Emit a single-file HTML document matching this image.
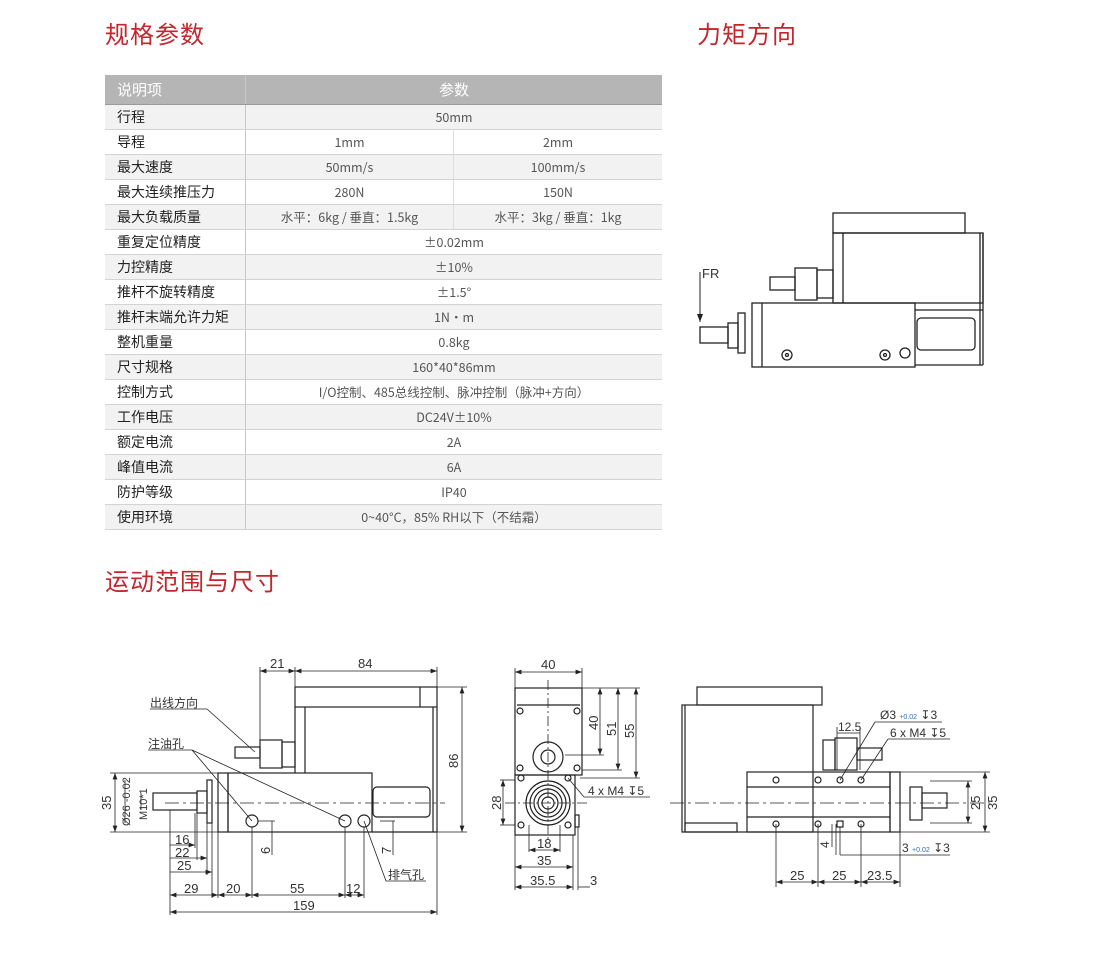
<!DOCTYPE html>
<html><head><meta charset="utf-8"><style>
body{margin:0;width:1102px;height:963px;background:#fff;position:relative;overflow:hidden;font-family:"Liberation Sans","Noto Sans CJK SC",sans-serif;}
.t{position:absolute;color:#c1272d;font-size:24px;line-height:30px;letter-spacing:1px;font-family:"Noto Sans CJK SC",sans-serif}
table{position:absolute;left:105px;top:75px;border-collapse:collapse;width:557px;font-size:13px;color:#333;font-family:"Noto Sans CJK SC",sans-serif}
td{height:24px;line-height:18px;padding:0;border-bottom:1px solid #d3d3d3;text-align:center;color:#555;font-size:12.5px;vertical-align:middle}
td.l{text-align:left;padding-left:12px;width:128px;border-right:1px solid #c8c8c8;color:#222;font-size:14px}
tr.g td{background:#f2f2f2}
tr.h td{background:#b5b5b6;color:#fff;height:29px;font-size:15px;border-bottom:1px solid #999}
td.s{border-right:1px solid #ddd;width:207px}
svg{position:absolute;left:0;top:0}
</style></head><body>
<div class="t" style="left:105px;top:18px">规格参数</div>
<div class="t" style="left:697px;top:18px">力矩方向</div>
<div class="t" style="left:105px;top:565px">运动范围与尺寸</div>
<table>
<tr class="h"><td class="l" style="color:#fff;font-size:15px">说明项</td><td colspan="2">参数</td></tr>
<tr class="g"><td class="l">行程</td><td colspan="2">50mm</td></tr>
<tr><td class="l">导程</td><td class="s">1mm</td><td>2mm</td></tr>
<tr class="g"><td class="l">最大速度</td><td class="s">50mm/s</td><td>100mm/s</td></tr>
<tr><td class="l">最大连续推压力</td><td class="s">280N</td><td>150N</td></tr>
<tr class="g"><td class="l">最大负载质量</td><td class="s">水平：6kg / 垂直：1.5kg</td><td>水平：3kg / 垂直：1kg</td></tr>
<tr><td class="l">重复定位精度</td><td colspan="2">±0.02mm</td></tr>
<tr class="g"><td class="l">力控精度</td><td colspan="2">±10%</td></tr>
<tr><td class="l">推杆不旋转精度</td><td colspan="2">±1.5°</td></tr>
<tr class="g"><td class="l">推杆末端允许力矩</td><td colspan="2">1N·m</td></tr>
<tr><td class="l">整机重量</td><td colspan="2">0.8kg</td></tr>
<tr class="g"><td class="l">尺寸规格</td><td colspan="2">160*40*86mm</td></tr>
<tr><td class="l">控制方式</td><td colspan="2">I/O控制、485总线控制、脉冲控制（脉冲+方向）</td></tr>
<tr class="g"><td class="l">工作电压</td><td colspan="2">DC24V±10%</td></tr>
<tr><td class="l">额定电流</td><td colspan="2">2A</td></tr>
<tr class="g"><td class="l">峰值电流</td><td colspan="2">6A</td></tr>
<tr><td class="l">防护等级</td><td colspan="2">IP40</td></tr>
<tr class="g"><td class="l">使用环境</td><td colspan="2">0~40°C，85% RH以下（不结霜）</td></tr>
</table>
<svg width="1102" height="963" viewBox="0 0 1102 963" font-family="Liberation Sans, Noto Sans CJK SC, sans-serif" fill="none" stroke="#222" stroke-width="1">
<defs><marker id="a" markerWidth="8" markerHeight="6" refX="8" refY="3" orient="auto-start-reverse"><path d="M0,0L8,3L0,6z" fill="#222" stroke="none"/></marker></defs>
<g stroke-width="1.3">
<rect x="833" y="213" width="132" height="20"/>
<rect x="833" y="233" width="150" height="70"/>
<line x1="843" y1="233" x2="843" y2="303"/>
<line x1="980" y1="233" x2="980" y2="365"/>
<line x1="983" y1="233" x2="983" y2="365"/>
<rect x="752" y="303" width="163" height="64"/>
<line x1="762" y1="303" x2="762" y2="367"/>
<line x1="915" y1="310" x2="983" y2="310"/>
<line x1="915" y1="365" x2="983" y2="365"/>
<rect x="917" y="318" width="58" height="32" rx="4"/>
<rect x="700" y="327" width="28" height="16"/>
<rect x="728" y="323" width="10" height="25"/>
<rect x="738" y="313" width="7" height="40"/>
<rect x="770" y="277" width="25" height="13"/>
<rect x="795" y="268" width="22" height="32"/>
<rect x="817" y="270" width="16" height="28"/>
<circle cx="787" cy="355" r="5"/><circle cx="787" cy="355" r="1.5"/>
<circle cx="885" cy="355" r="5"/><circle cx="885" cy="355" r="1.5"/>
<circle cx="905" cy="353" r="5"/>
</g>
<line x1="700" y1="272" x2="700" y2="322" marker-end="url(#a)"/>
<text x="702" y="278" fill="#333" stroke="none" font-size="13">FR</text>

<g stroke-width="1.2">
<rect x="295" y="687" width="142" height="20"/>
<line x1="420" y1="687" x2="420" y2="707"/>
<line x1="437" y1="707" x2="437" y2="832"/>
<line x1="295" y1="707" x2="295" y2="773"/>
<line x1="305" y1="707" x2="305" y2="773"/>
<line x1="433" y1="707" x2="433" y2="832"/>
<rect x="228" y="773" width="144" height="59"/>
<rect x="218" y="773" width="10" height="59"/>
<line x1="372" y1="832" x2="437" y2="832"/>
<rect x="373" y="787" width="57" height="30" rx="4"/>
<rect x="153" y="793" width="44" height="17"/>
<rect x="197" y="791" width="10" height="22"/>
<rect x="207" y="780" width="5" height="43"/>
<rect x="235" y="747" width="25" height="11"/>
<rect x="260" y="740" width="22" height="28"/>
<rect x="282" y="742" width="13" height="25"/>
<circle cx="252" cy="821" r="6"/><circle cx="345" cy="821" r="6"/><circle cx="364" cy="821" r="6"/>
</g>
<g stroke-width="0.8">
<line x1="165" y1="803" x2="445" y2="803" stroke-dasharray="14,4,3,4"/>
<line x1="260" y1="667" x2="260" y2="740"/><line x1="295" y1="667" x2="295" y2="687"/><line x1="437" y1="667" x2="437" y2="687"/>
<line x1="260" y1="671" x2="295" y2="671" marker-start="url(#a)" marker-end="url(#a)"/>
<line x1="295" y1="671" x2="437" y2="671" marker-start="url(#a)" marker-end="url(#a)"/>
<line x1="437" y1="687" x2="467" y2="687"/><line x1="437" y1="832" x2="467" y2="832"/>
<line x1="462" y1="687" x2="462" y2="832" marker-start="url(#a)" marker-end="url(#a)"/>
<line x1="110" y1="773" x2="218" y2="773"/><line x1="110" y1="832" x2="218" y2="832"/>
<line x1="115" y1="773" x2="115" y2="832" marker-start="url(#a)" marker-end="url(#a)"/>
<line x1="125" y1="780" x2="125" y2="823"/><line x1="141" y1="793" x2="141" y2="810"/>
<line x1="170" y1="810" x2="170" y2="915"/><line x1="195" y1="813" x2="195" y2="848"/><line x1="197" y1="813" x2="197" y2="860"/><line x1="207" y1="813" x2="207" y2="875"/><line x1="212" y1="823" x2="212" y2="898"/>
<line x1="218" y1="832" x2="218" y2="898"/><line x1="252" y1="827" x2="252" y2="898"/><line x1="345" y1="827" x2="345" y2="898"/><line x1="364" y1="827" x2="364" y2="898"/><line x1="437" y1="832" x2="437" y2="915"/>
<line x1="170" y1="845" x2="195" y2="845" marker-end="url(#a)"/>
<line x1="170" y1="858" x2="207" y2="858" marker-end="url(#a)"/>
<line x1="170" y1="872" x2="212" y2="872" marker-end="url(#a)"/>
<line x1="170" y1="895" x2="218" y2="895" marker-start="url(#a)" marker-end="url(#a)"/>
<line x1="218" y1="895" x2="252" y2="895" marker-start="url(#a)" marker-end="url(#a)"/>
<line x1="252" y1="895" x2="345" y2="895" marker-start="url(#a)" marker-end="url(#a)"/>
<line x1="345" y1="895" x2="364" y2="895" marker-start="url(#a)" marker-end="url(#a)"/>
<line x1="170" y1="912" x2="437" y2="912" marker-start="url(#a)" marker-end="url(#a)"/>
<line x1="258" y1="821" x2="275" y2="821"/><line x1="272" y1="821" x2="272" y2="855"/>
<line x1="380" y1="821" x2="395" y2="821"/><line x1="393" y1="821" x2="393" y2="855"/>
<line x1="150" y1="709" x2="207" y2="709"/><line x1="207" y1="709" x2="255" y2="752"/>
<line x1="148" y1="750" x2="192" y2="750"/><line x1="192" y1="750" x2="252" y2="821"/><line x1="192" y1="750" x2="345" y2="821"/>
<line x1="364" y1="821" x2="386" y2="881"/><line x1="386" y1="881" x2="426" y2="881"/>
</g>
<g fill="#333" stroke="none" font-size="13">
<text x="270" y="668">21</text><text x="358" y="668">84</text>
<text x="150" y="707" font-size="12">出线方向</text><text x="148" y="748" font-size="12">注油孔</text><text x="388" y="879" font-size="12">排气孔</text>
<text transform="translate(458,768) rotate(-90)">86</text>
<text transform="translate(111,810) rotate(-90)">35</text>
<text transform="translate(130,826) rotate(-90)" font-size="11">Ø26 -0.02</text>
<text transform="translate(147,820) rotate(-90)" font-size="11">M10*1</text>
<text x="175" y="844">16</text><text x="175" y="857">22</text><text x="177" y="870">25</text>
<text x="184" y="893">29</text><text x="226" y="893">20</text><text x="290" y="893">55</text><text x="346" y="893">12</text><text x="293" y="910">159</text>
<text transform="translate(270,854) rotate(-90)">6</text><text transform="translate(391,854) rotate(-90)">7</text>
</g>

<g stroke-width="1.2">
<rect x="515" y="688" width="67" height="87"/>
<line x1="517" y1="705" x2="580" y2="705"/>
<rect x="515" y="775" width="60" height="60"/>
<rect x="575" y="815" width="4" height="12"/>
<circle cx="548" cy="757" r="15"/><circle cx="548" cy="757" r="7"/>
<circle cx="548" cy="803" r="22"/><circle cx="548" cy="803" r="18"/><circle cx="548" cy="803" r="14"/><circle cx="548" cy="803" r="10"/><circle cx="548" cy="803" r="6"/>
<circle cx="520" cy="711" r="3"/><circle cx="577" cy="711" r="3"/><circle cx="520" cy="768" r="3"/><circle cx="577" cy="768" r="3"/>
<circle cx="521" cy="778" r="3"/><circle cx="568" cy="778" r="3"/><circle cx="521" cy="825" r="3"/><circle cx="568" cy="825" r="3"/>
</g>
<g stroke-width="0.8">
<line x1="548" y1="680" x2="548" y2="840" stroke-dasharray="10,3,2,3"/><line x1="505" y1="803" x2="590" y2="803" stroke-dasharray="10,3,2,3"/>
<line x1="515" y1="668" x2="515" y2="688"/><line x1="582" y1="668" x2="582" y2="688"/>
<line x1="515" y1="672" x2="582" y2="672" marker-start="url(#a)" marker-end="url(#a)"/>
<line x1="582" y1="688" x2="640" y2="688"/><line x1="565" y1="755" x2="604" y2="755"/><line x1="582" y1="770" x2="622" y2="770"/><line x1="580" y1="778" x2="640" y2="778"/>
<line x1="600" y1="688" x2="600" y2="755" marker-start="url(#a)" marker-end="url(#a)"/>
<line x1="618" y1="688" x2="618" y2="770" marker-start="url(#a)" marker-end="url(#a)"/>
<line x1="636" y1="688" x2="636" y2="778" marker-start="url(#a)" marker-end="url(#a)"/>
<line x1="500" y1="780" x2="515" y2="780"/><line x1="500" y1="825" x2="515" y2="825"/>
<line x1="503" y1="780" x2="503" y2="825" marker-start="url(#a)" marker-end="url(#a)"/>
<line x1="568" y1="778" x2="584" y2="797"/><line x1="584" y1="797" x2="650" y2="797"/>
<line x1="529" y1="825" x2="529" y2="852"/><line x1="560" y1="825" x2="560" y2="852"/><line x1="515" y1="835" x2="515" y2="890"/><line x1="573" y1="835" x2="573" y2="890"/><line x1="578" y1="827" x2="578" y2="890"/>
<line x1="529" y1="850" x2="560" y2="850" marker-start="url(#a)" marker-end="url(#a)"/>
<line x1="515" y1="867" x2="573" y2="867" marker-start="url(#a)" marker-end="url(#a)"/>
<line x1="515" y1="887" x2="573" y2="887" marker-start="url(#a)" marker-end="url(#a)"/>
<line x1="578" y1="887" x2="590" y2="887"/>
</g>
<g fill="#333" stroke="none" font-size="13">
<text x="541" y="669">40</text>
<text transform="translate(598,730) rotate(-90)">40</text><text transform="translate(616,736) rotate(-90)">51</text><text transform="translate(634,738) rotate(-90)">55</text>
<text transform="translate(501,810) rotate(-90)">28</text>
<text x="588" y="795" font-size="12">4 x M4 ↧5</text>
<text x="537" y="848">18</text><text x="537" y="865">35</text><text x="530" y="885">35.5</text><text x="590" y="885">3</text>
</g>

<g stroke-width="1.2">
<rect x="697" y="687" width="125" height="18"/>
<rect x="682" y="705" width="131" height="127"/>
<line x1="685" y1="705" x2="685" y2="832"/>
<rect x="685" y="823" width="52" height="9"/>
<rect x="747" y="772" width="143" height="60"/>
<line x1="747" y1="787" x2="890" y2="787"/><line x1="747" y1="817" x2="890" y2="817"/>
<rect x="890" y="772" width="10" height="60"/>
<rect x="910" y="787" width="12" height="33"/>
<rect x="922" y="793" width="25" height="15"/>
<rect x="823" y="740" width="12" height="30"/><rect x="835" y="738" width="22" height="32"/><rect x="857" y="748" width="25" height="12"/>
<circle cx="776" cy="780" r="3"/><circle cx="818" cy="780" r="3"/><circle cx="840" cy="780" r="3"/><circle cx="861" cy="780" r="3"/>
<circle cx="776" cy="824" r="3"/><circle cx="818" cy="824" r="3"/><rect x="837" y="821" width="6" height="6"/><circle cx="861" cy="824" r="3"/>
</g>
<g stroke-width="0.8">
<line x1="670" y1="803" x2="990" y2="803" stroke-dasharray="14,4,3,4"/>
<line x1="900" y1="772" x2="990" y2="772"/><line x1="900" y1="832" x2="990" y2="832"/><line x1="930" y1="781" x2="972" y2="781"/><line x1="930" y1="823" x2="972" y2="823"/>
<line x1="968" y1="781" x2="968" y2="823" marker-start="url(#a)" marker-end="url(#a)"/>
<line x1="985" y1="772" x2="985" y2="832" marker-start="url(#a)" marker-end="url(#a)"/>
<line x1="776" y1="824" x2="776" y2="887"/><line x1="818" y1="824" x2="818" y2="887"/><line x1="861" y1="824" x2="861" y2="887"/><line x1="900" y1="832" x2="900" y2="887"/>
<line x1="776" y1="882" x2="818" y2="882" marker-start="url(#a)" marker-end="url(#a)"/>
<line x1="818" y1="882" x2="861" y2="882" marker-start="url(#a)" marker-end="url(#a)"/>
<line x1="861" y1="882" x2="900" y2="882" marker-start="url(#a)" marker-end="url(#a)"/>
<line x1="837" y1="727" x2="837" y2="770"/><line x1="860" y1="727" x2="860" y2="770"/>
<line x1="837" y1="733" x2="860" y2="733"/>
<line x1="840" y1="780" x2="875" y2="722"/><line x1="875" y1="722" x2="942" y2="722"/>
<line x1="861" y1="780" x2="888" y2="739"/><line x1="888" y1="739" x2="950" y2="739"/>
<line x1="832" y1="824" x2="832" y2="847"/><line x1="836" y1="824" x2="836" y2="855"/><line x1="840" y1="827" x2="840" y2="855"/><line x1="840" y1="855" x2="950" y2="855"/>
</g>
<g fill="#333" stroke="none" font-size="13">
<text x="838" y="731" font-size="12">12.5</text>
<text x="880" y="719" font-size="12">Ø3 <tspan font-size="7" fill="#2a6fb5">+0.02</tspan> ↧3</text>
<text x="890" y="737" font-size="12">6 x M4 ↧5</text>
<text x="902" y="852" font-size="12">3 <tspan font-size="7" fill="#2a6fb5">+0.02</tspan> ↧3</text>
<text transform="translate(829,848) rotate(-90)" font-size="12">4</text>
<text transform="translate(980,810) rotate(-90)">25</text><text transform="translate(997,810) rotate(-90)">35</text>
<text x="790" y="880">25</text><text x="832" y="880">25</text><text x="867" y="880">23.5</text>
</g>
</svg>
</body></html>
